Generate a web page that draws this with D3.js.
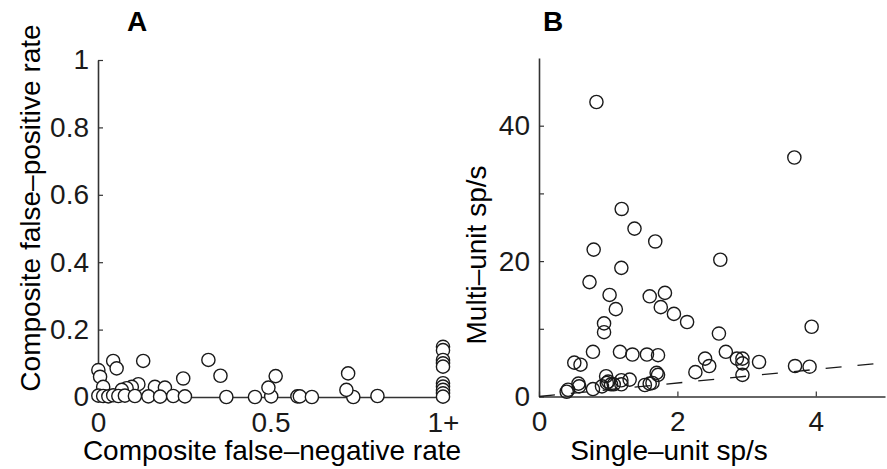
<!DOCTYPE html>
<html>
<head>
<meta charset="utf-8">
<script src="https://cdn.jsdelivr.net/npm/d3@7"></script>
<style>
  body { margin: 0; background: #fff; }
  svg { display: block; font-family: "Liberation Sans", Arial, sans-serif; }
</style>
</head>
<body>
<script>
// panel A : composite false-negative rate vs composite false-positive rate
const fnRate = [0.001, 0.006, 0.044, 0.054, 0.131, 0.247, 0.015, 0.117, 0.098, 0.083, 0.069, 0.165, 0.194,
  0.001, 0.015, 0.030, 0.044, 0.059, 0.078, 0.107, 0.146, 0.180, 0.218, 0.252, 0.372, 0.455,
  0.502, 0.578, 0.585, 0.620, 0.740, 0.810,
  0.320, 0.355, 0.494, 0.515, 0.725, 0.720,
  1, 1, 1, 1, 1, 1, 1, 1, 1, 1];
const fpRate = [0.080, 0.060, 0.107, 0.085, 0.107, 0.055, 0.030, 0.038, 0.030, 0.026, 0.021, 0.030, 0.028,
  0.004, 0.003, 0.002, 0.005, 0.003, 0.004, 0.003, 0.002, 0.001, 0.003, 0.002, 0.000, 0.000,
  0.002, 0.002, 0.002, 0.000, 0.000, 0.003,
  0.110, 0.063, 0.028, 0.062, 0.070, 0.021,
  0.149, 0.139, 0.110, 0.100, 0.090, 0.041, 0.031, 0.021, 0.011, 0.001];
const ticksAy = [0, 0.2, 0.4, 0.6, 0.8, 1];
const labelsAy = ["0", "0.2", "0.4", "0.6", "0.8", "1"];
const ticksAx = [0, 0.5, 1];
const labelsAx = ["0", "0.5", "1+"];

// panel B : single-unit vs multi-unit firing rate
const singleUnit = [0.83, 3.69, 1.195, 1.38, 1.68, 0.79, 2.62, 1.19, 0.73, 1.02, 1.82, 1.60, 1.76, 1.11, 1.95, 2.14,
  0.94, 3.94, 0.94, 2.60, 0.78, 1.17, 2.70, 1.35, 1.56, 1.72, 2.86, 2.40, 2.94, 3.18, 0.51, 2.94, 0.60, 2.46,
  3.70, 3.91, 2.26, 1.70, 1.72, 2.94, 0.97, 1.00, 0.98, 1.04, 1.08, 1.19, 1.19, 1.31, 1.53, 1.64, 1.60,
  0.42, 0.40, 0.57, 0.58, 0.78, 0.91];
const multiUnit = [43.5, 35.3, 27.7, 24.8, 22.9, 21.7, 20.2, 19.0, 16.9, 15.0, 15.3, 14.8, 13.2, 12.9, 12.2, 11.0,
  10.8, 10.3, 9.5, 9.3, 6.6, 6.6, 6.6, 6.2, 6.2, 6.1, 5.6, 5.6, 5.6, 5.1, 5.0, 4.9, 4.7, 4.5,
  4.5, 4.4, 3.6, 3.5, 3.2, 3.2, 3.0, 2.2, 2.0, 1.8, 1.8, 2.4, 1.8, 2.5, 1.7, 2.0, 1.9,
  1.0, 0.7, 1.9, 1.5, 1.1, 1.5];
const ticksBy = [0, 10, 20, 30, 40];
const labelsBy = ["0", "", "20", "", "40"];
const ticksBx = [0, 2, 4];
const labelsBx = ["0", "2", "4"];
const unityLine = [0, 5];

const W = 887, H = 469;
const svg = d3.select("body").append("svg").attr("width", W).attr("height", H);

const ink = "#1a1a1a";
const fs = 28;

// ---------- panel A
const xA = d3.scaleLinear().domain([0, 1]).range([98, 443]);
const yA = d3.scaleLinear().domain([0, 1]).range([397, 60]);

const gA = svg.append("g");
gA.append("g")
  .attr("transform", "translate(0," + yA(0) + ")")
  .call(d3.axisBottom(xA).tickValues(ticksAx).tickSizeInner(-5).tickSizeOuter(0).tickPadding(15)
    .tickFormat((d, i) => labelsAx[i]));
gA.append("g")
  .attr("transform", "translate(" + xA(0) + ",0)")
  .call(d3.axisLeft(yA).tickValues(ticksAy).tickSizeInner(-5).tickSizeOuter(0).tickPadding(9)
    .tickFormat((d, i) => labelsAy[i]));

gA.selectAll(".dotA")
  .data(fnRate.map((d, i) => [d, fpRate[i]]))
  .enter().append("circle")
  .attr("cx", d => xA(d[0]))
  .attr("cy", d => yA(d[1]))
  .attr("r", 6.6)
  .attr("fill", "#fff")
  .attr("stroke", ink)
  .attr("stroke-width", 1.4);

gA.append("text").attr("x", 127).attr("y", 31).attr("font-weight", "bold").attr("font-size", 28).text("A");
gA.append("text").attr("x", 272).attr("y", 460).attr("text-anchor", "middle").attr("font-size", fs)
  .text("Composite false\u2013negative rate");
gA.append("text").attr("transform", "translate(40,208) rotate(-90)").attr("text-anchor", "middle").attr("font-size", fs)
  .text("Composite false\u2013positive rate");

// ---------- panel B
const xB = d3.scaleLinear().domain([0, 5]).range([539, 885]);
const yB = d3.scaleLinear().domain([0, 50]).range([396.5, 58]);

const gB = svg.append("g");
gB.append("g")
  .attr("transform", "translate(0," + yB(0) + ")")
  .call(d3.axisBottom(xB).tickValues(ticksBx).tickSizeInner(-5).tickSizeOuter(0).tickPadding(15)
    .tickFormat((d, i) => labelsBx[i]));
gB.append("g")
  .attr("transform", "translate(" + xB(0) + ",0)")
  .call(d3.axisLeft(yB).tickValues(ticksBy).tickSizeInner(-5).tickSizeOuter(0).tickPadding(9)
    .tickFormat((d, i) => labelsBy[i]));

gB.append("line")
  .attr("x1", xB(unityLine[0])).attr("y1", yB(unityLine[0]))
  .attr("x2", xB(unityLine[1])).attr("y2", yB(unityLine[1]))
  .attr("stroke", ink).attr("stroke-width", 1.3).attr("stroke-dasharray", "16,16");

gB.selectAll(".dotB")
  .data(singleUnit.map((d, i) => [d, multiUnit[i]]))
  .enter().append("circle")
  .attr("cx", d => xB(d[0]))
  .attr("cy", d => yB(d[1]))
  .attr("r", 6.6)
  .attr("fill", "none")
  .attr("stroke", ink)
  .attr("stroke-width", 1.4);

gB.append("text").attr("x", 543).attr("y", 31).attr("font-weight", "bold").attr("font-size", 28).text("B");
gB.append("text").attr("x", 669).attr("y", 460).attr("text-anchor", "middle").attr("font-size", fs)
  .text("Single\u2013unit sp/s");
gB.append("text").attr("transform", "translate(486,255) rotate(-90)").attr("text-anchor", "middle").attr("font-size", fs)
  .text("Multi\u2013unit sp/s");

// axis styling
svg.selectAll(".domain").attr("stroke", "#333").attr("stroke-width", 1.6);
svg.selectAll(".tick line").attr("stroke", "#333").attr("stroke-width", 1.2);
svg.selectAll(".tick text").attr("font-size", fs).attr("fill", ink)
  .attr("font-family", "'Liberation Sans', Arial, sans-serif");
</script>
</body>
</html>
